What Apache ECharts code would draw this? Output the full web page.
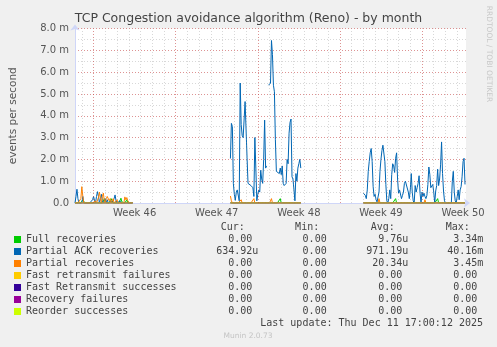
<!DOCTYPE html>
<html><head><meta charset="utf-8">
<script src="https://cdn.jsdelivr.net/npm/echarts@6/dist/echarts.min.js"></script>
<style>html,body{margin:0;padding:0;background:#F0F0F0;}#c{width:497px;height:347px;}</style>
</head><body><div id="c"></div><script>
// ---- data ----
const chartTitle = 'TCP Congestion avoidance algorithm (Reno) - by month';
const seriesNames = ['Full recoveries','Partial ACK recoveries','Partial recoveries','Fast retransmit failures','Fast Retransmit successes','Recovery failures','Reorder successes'];
const seriesColors = ['#00CC00','#0066B3','#FF8000','#FFCC00','#330099','#990099','#CCFF00'];
const weekLabels = ['Week 46','Week 47','Week 48','Week 49','Week 50'];
const weekLabelHours = [84,252,420,588,756];      // hours from Mon Nov 10 00:00
const weekStartHours = [0,168,336,504,672];
const dayHours = [-24,0,24,48,72,96,120,144,168,192,216,240,264,288,312,336,360,384,408,432,456,480,504,528,552,576,600,624,648,672,696,720,744];
const stepHours = 2;
const dataSpans = [[-38,80],[280,424],[552,760]];   // where samples exist

// Partial ACK recoveries (milli events/s)
const ackSpikesA = [[-36,0.3],[-34,0.63],[-32,0.2],[-22,0.3],[-2,0.15],[0,0.3],[2,0.1],[6,0.3],[8,0.52],[10,0.3],[14,0.2],[16,0.4],[18,0.1],[24,0.2],[28,0.15],[36,0.1],[42,0.2],[44,0.37],[46,0.1],[54,0.1]];
const ackStartB = 280;
const ackB = [2.04,3.65,3.5,0.9,0.4,0.12,0.5,0.6,0.55,0.1, 5.5,3.6,3.1,3.0,3.0,4.65,4.6,2.1,0.9,0.9, 0.85,0.8,0.85,0.7,0.3,3.0,1.6,0.1,0.4,0.6, 0.5,1.5,1.1,0.9,2.0,3.8,1.6,1.7,null,5.4, 5.45,5.5,7.45,6.8,5.4,5.1,2.9,1.45,1.5,1.45, 1.35,1.6,1.3,1.7,0.9,0.8,0.8,0.9,2.0,1.8, 3.2,3.7,3.85,1.2,1.1,0.6,0.1,1.35,1.0,1.6, 1.8,2.0,1.6];
const ackStartC = 552;
const ackC = [0.45,0.5,0.35,0.2,0.6,1.45,1.9,2.3,2.5,1.9, 0.75,0.3,0.4,0.15,0.05,0,0.5,1.45,2.0,2.4, 2.65,2.65,1.9,0.85,0.1,0,0.2,0.6,0.2,1.3, 1.8,1.7,1.4,2.05,2.3,1.1,0.45,0.6,0.6,0.2, 0.35,0.5,0.9,1.0,1.0,0.95,0.5,0.2,0.6,1.35, 0.5,0.1,0,0.8,0.5,0.7,0.9,1.25,0.45,0, 0.5,0.3,0.45,0.3,0.2,0.35,0.85,1.65,1.3,0.7, 0.7,0.85,0.5,0,0.55,0.8,1.55,0.8,1.1,1.75, 2.8,1.35,0.55,0.1,0,0,0,0,0,0, 0,1.0,1.45,0.5,0.1,0,0.3,0.6,0.15,0.6, 0.75,1.2,1.9,2.05,0.85];
// Full recoveries
const fullSpikes = [[-22,0.15],[-20,0.2],[22,0.2],[24,0.1],[36,0.2],[38,0.1],[56,0.22],[58,0.05],[68,0.15],[382,0.2],[618,0.2],[704,0.2]];
// Partial recoveries
const partialSpikes = [[-26,0.2],[-24,0.75],[-22,0.3],[4,0.1],[10,0.25],[12,0.5],[14,0.2],[18,0.3],[20,0.45],[22,0.1],[26,0.2],[28,0.3],[30,0.25],[32,0.1],[34,0.2],[40,0.2],[48,0.15],[64,0.28],[66,0.15],[68,0.25],[70,0.1],[72,0.18],[280,0.32],[282,0.1],[302,0.15],[328,0.2],[364,0.2],[584,0.2],[678,0.15]];

// legend statistics
const curVals = ['0.00','634.92u','0.00','0.00','0.00','0.00','0.00'];
const minVals = ['0.00','0.00','0.00','0.00','0.00','0.00','0.00'];
const avgVals = ['9.76u','971.19u','20.34u','0.00','0.00','0.00','0.00'];
const maxVals = ['3.34m','40.16m','3.45m','0.00','0.00','0.00','0.00'];
const statHeaders = ['Cur:','Min:','Avg:','Max:'];
const lastUpdate = 'Last update: Thu Dec 11 17:00:12 2025';
const footer = 'Munin 2.0.73';

// ---- build ----
function build(spikes, blocks) {
  const m = new Map(spikes.map(p => [p[0], p[1]]));
  (blocks || []).forEach(b => b.values.forEach((v, i) => m.set(b.start + i * stepHours, v)));
  const out = [];
  dataSpans.forEach(([s, e]) => {
    for (let h = s; h <= e; h += stepHours) {
      out.push([h, m.has(h) ? m.get(h) : 0]);
    }
    out.push([e + 1, null]);
  });
  return out;
}
const seriesData = [
  build(fullSpikes),
  build(ackSpikesA, [{start: ackStartB, values: ackB}, {start: ackStartC, values: ackC}]),
  build(partialSpikes),
  build([]), build([]), build([]), build([])
];

const MONO = 'DejaVu Sans Mono';
const SANS = 'DejaVu Sans';
const FONT_COLOR = '#444';
const rowY0 = 239.5, rowH = 12, charW = 6.02;
const colEdges = [258.3, 332.7, 408.3, 483.3];
const graphics = [];
statHeaders.forEach((h, j) => graphics.push({type:'text', x: colEdges[j] - 13.5, y: rowY0 - rowH, style:{text:h, font:'10px ' + MONO, fill:FONT_COLOR, textAlign:'right', textVerticalAlign:'middle'}}));
[curVals, minVals, avgVals, maxVals].forEach((col, j) => {
  col.forEach((t, i) => {
    const hasUnit = /[a-z]$/i.test(t);
    graphics.push({type:'text', x: colEdges[j] - (hasUnit ? 0 : charW), y: rowY0 + i * rowH,
      style:{text:t, font:'10px ' + MONO, fill:FONT_COLOR, textAlign:'right', textVerticalAlign:'middle'}});
  });
});
graphics.push({type:'text', x: 483, y: rowY0 + 7 * rowH, style:{text:lastUpdate, font:'10px ' + MONO, fill:FONT_COLOR, textAlign:'right', textVerticalAlign:'middle'}});
graphics.push({type:'text', x: 248, y: 336, style:{text:footer, font:'7.5px ' + SANS, fill:'#c4c4c4', textAlign:'center', textVerticalAlign:'middle'}});
graphics.push({type:'text', x: 489, y: 54, rotation: -Math.PI/2, style:{text:'RRDTOOL / TOBI OETIKER', font:'7.5px ' + SANS, fill:'#c8c8c8', textAlign:'center', textVerticalAlign:'middle'}});

const minorGrid = {color:'rgba(143,143,143,0.35)', width:1, type:[1,2]};
const majorGrid = {color:'rgba(233,21,21,0.35)', width:1, type:[1,2]};
const axisCol = '#CFD6F8';

function gridLineSeries(hours, style) {
  return {
    type: 'line', xAxisIndex: 0, yAxisIndex: 0, data: [[hours[0], null]], silent: true,
    showSymbol: false, symbol: 'none', lineStyle: {width: 0}, tooltip: {show: false},
    markLine: {silent: true, symbol: ['none','none'], label: {show: false}, animation: false,
      lineStyle: style, emphasis: {disabled: true}, data: hours.map(h => ({xAxis: h}))}
  };
}

const option = {
  animation: false,
  backgroundColor: '#F0F0F0',
  title: {text: chartTitle, left: 'center', top: 12, padding: 0,
    textStyle: {fontFamily: SANS, fontSize: 12.5, fontWeight: 'normal', color: '#444'}},
  legend: {data: seriesNames, orient: 'vertical', left: 14, top: 233.5, padding: 0, itemGap: 0,
    itemWidth: 7, itemHeight: 7, icon: 'rect', selectedMode: false,
    textStyle: {fontFamily: MONO, fontSize: 10, color: FONT_COLOR, lineHeight: 12}},
  grid: {left: 66, top: 28.5, width: 400, height: 174.5, show: true, backgroundColor: '#FFFFFF', borderWidth: 0},
  xAxis: [{
    type: 'value', min: -38, max: 762,
    axisLine: {show: true, onZero: false, lineStyle: {color: axisCol}, symbol: ['none','arrow'], symbolSize: [7,6], symbolOffset: [0,4]},
    axisTick: {show: false},
    splitLine: {show: false},
    axisLabel: {customValues: weekLabelHours, margin: 5, fontFamily: SANS, fontSize: 10, color: '#555',
      formatter: v => weekLabels[weekLabelHours.indexOf(v)] || ''}
  }],
  yAxis: [{
    type: 'value', min: 0, max: 8, interval: 0.5,
    name: 'events per second', nameLocation: 'middle', nameGap: 56, nameRotate: 90,
    nameTextStyle: {fontFamily: SANS, fontSize: 10.5, color: '#555'},
    axisLine: {show: true, onZero: false, lineStyle: {color: axisCol}, symbol: ['none','arrow'], symbolSize: [7,6], symbolOffset: [0,4]},
    axisTick: {show: false},
    splitLine: {show: true, lineStyle: minorGrid},
    axisLabel: {margin: 6, fontFamily: SANS, fontSize: 10, color: '#555',
      formatter: v => (Math.abs(v - Math.round(v)) > 1e-6) ? '' : (v === 0 ? '0.0' : v.toFixed(1) + ' m')}
  }, {
    type: 'value', min: 0, max: 8, interval: 1, position: 'left',
    axisLine: {show: false, onZero: false}, axisTick: {show: false}, axisLabel: {show: false},
    splitLine: {show: true, lineStyle: majorGrid}
  }],
  series: [gridLineSeries(dayHours, minorGrid), gridLineSeries(weekStartHours, majorGrid)].concat(
    seriesNames.map((n, i) => ({
      name: n, type: 'line', xAxisIndex: 0, yAxisIndex: 0, data: seriesData[i],
      color: seriesColors[i], showSymbol: false, symbol: 'none', connectNulls: false,
      lineStyle: {width: 1, color: seriesColors[i]}, itemStyle: {color: seriesColors[i]},
      emphasis: {disabled: true}, silent: true
    }))),
  graphic: graphics
};
echarts.init(document.getElementById('c'), null, {renderer: 'canvas'}).setOption(option);
</script></body></html>
